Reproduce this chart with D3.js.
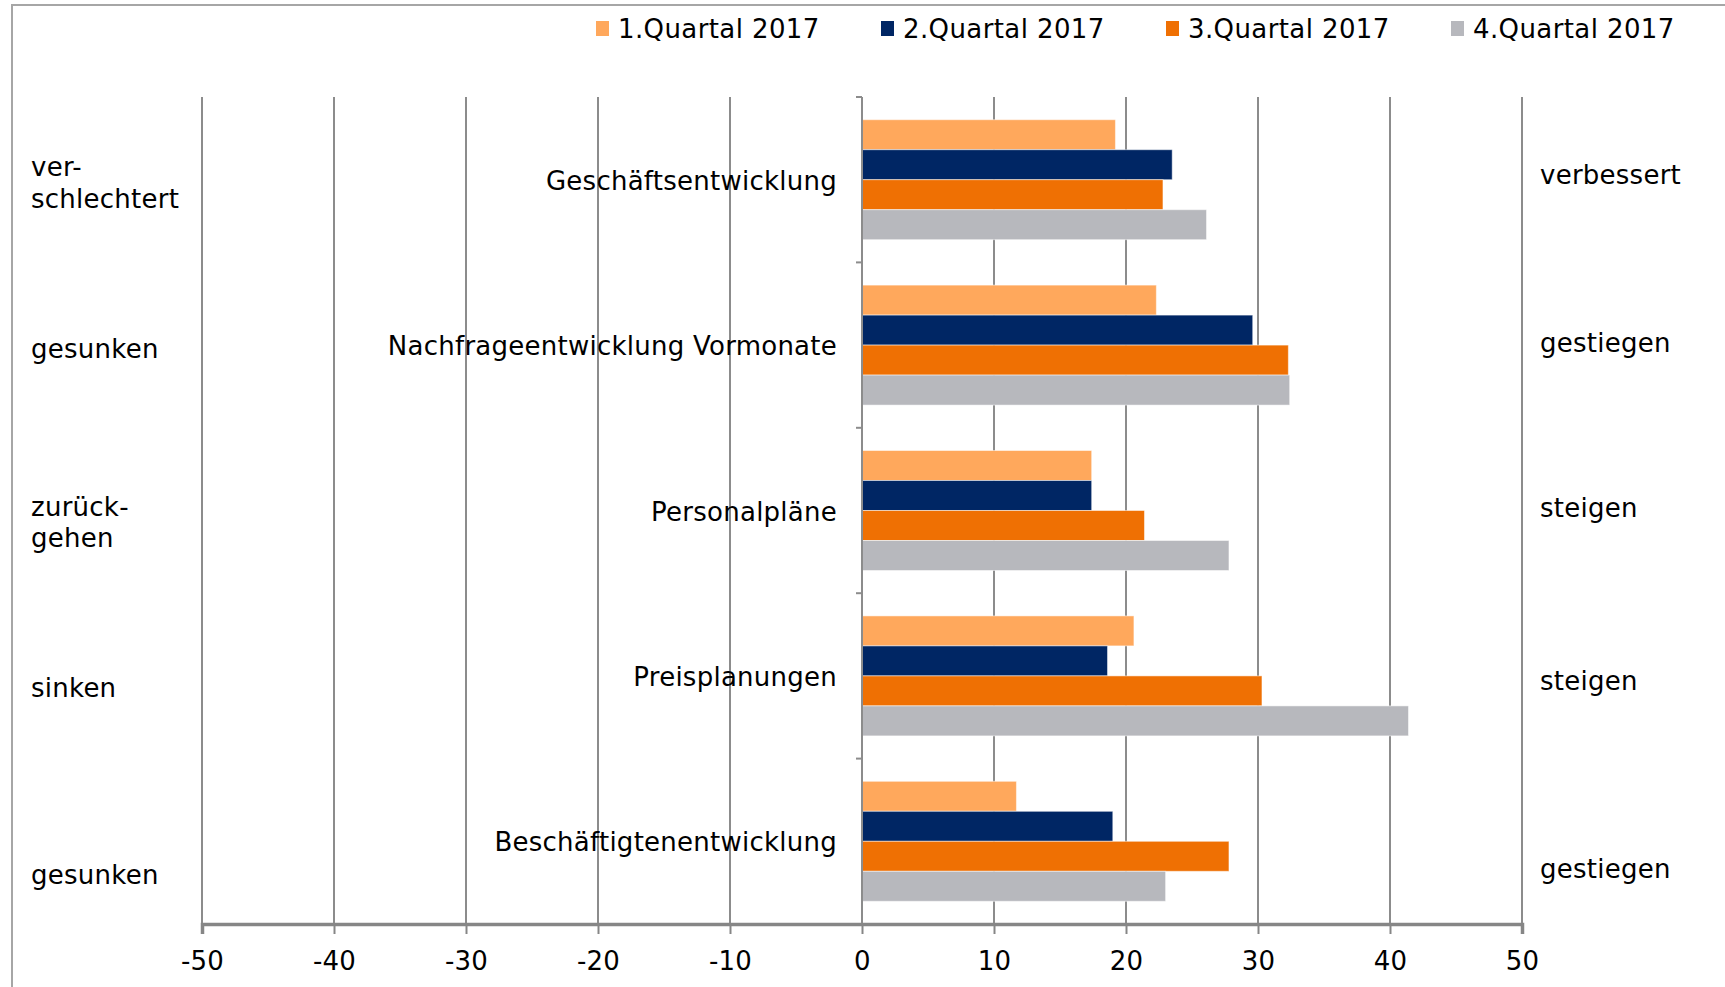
<!DOCTYPE html>
<html>
<head>
<meta charset="utf-8">
<script src="https://cdn.jsdelivr.net/npm/d3@7"></script>
<style>
  html, body { margin: 0; padding: 0; background: #fff; }
  svg { display: block; }
  text { font-family: "DejaVu Sans", Verdana, sans-serif; fill: #000; letter-spacing: 0.25px; }
  .legend text { letter-spacing: 0.4px; }
</style>
</head>
<body>
<svg id="chart" width="1725" height="987"></svg>
<script>
// ---- data ----
const categories = ["Geschäftsentwicklung", "Nachfrageentwicklung Vormonate", "Personalpläne", "Preisplanungen", "Beschäftigtenentwicklung"];
const series = ["1.Quartal 2017", "2.Quartal 2017", "3.Quartal 2017", "4.Quartal 2017"];
const q1 = [19.2, 22.3, 17.4, 20.6, 11.7];
const q2 = [23.5, 29.6, 17.4, 18.6, 19.0];
const q3 = [22.8, 32.3, 21.4, 30.3, 27.8];
const q4 = [26.1, 32.4, 27.8, 41.4, 23.0];
const leftLabels = [["ver-", "schlechtert"], ["gesunken"], ["zurück-", "gehen"], ["sinken"], ["gesunken"]];
const rightLabels = ["verbessert", "gestiegen", "steigen", "steigen", "gestiegen"];
const tickValues = [-50, -40, -30, -20, -10, 0, 10, 20, 30, 40, 50];
const tickLabels = ["-50", "-40", "-30", "-20", "-10", "0", "10", "20", "30", "40", "50"];
const colors = ["#ffa85c", "#002664", "#ef7003", "#b7b8bd"];

const values = [q1, q2, q3, q4];

// ---- layout ----
const svg = d3.select("#chart");
const FS = 26;
const x = d3.scaleLinear().domain([-50, 50]).range([202, 1522]);
const y0 = d3.scaleBand().domain(categories).range([97, 924]);
const y1 = d3.scaleBand().domain(series).range([0, y0.bandwidth()]).paddingInner(0).paddingOuter(0.757);

// outer frame
svg.append("rect").attr("x", 12).attr("y", 5).attr("width", 1725).attr("height", 1000)
  .attr("fill", "none").attr("stroke", "#a6a6a6").attr("stroke-width", 2);

// gridlines
svg.append("g").selectAll("line").data(tickValues).join("line")
  .attr("x1", d => x(d)).attr("x2", d => x(d))
  .attr("y1", y0.range()[0]).attr("y2", y0.range()[1])
  .attr("stroke", "#8c8c8c").attr("stroke-width", 2);

// bars
const groups = svg.append("g").selectAll("g").data(categories).join("g")
  .attr("transform", c => `translate(0,${y0(c)})`);
groups.selectAll("rect")
  .data((c, i) => series.map((s, j) => ({ s, j, v: values[j][i] })))
  .join("rect")
  .attr("x", d => x(Math.min(0, d.v)))
  .attr("y", d => y1(d.s))
  .attr("width", d => Math.abs(x(d.v) - x(0)))
  .attr("height", y1.bandwidth())
  .attr("fill", d => colors[d.j])
  .attr("stroke", "#ffffff").attr("stroke-opacity", 0.5).attr("stroke-width", 1);

// category axis at zero
const bounds = categories.map(c => y0(c)).concat([y0.range()[1]]);
svg.append("g").selectAll("line").data(bounds).join("line")
  .attr("x1", x(0) - 6).attr("x2", x(0))
  .attr("y1", d => d).attr("y2", d => d)
  .attr("stroke", "#8c8c8c").attr("stroke-width", 2);
svg.append("line").attr("x1", x(0)).attr("x2", x(0))
  .attr("y1", y0.range()[0]).attr("y2", y0.range()[1])
  .attr("stroke", "#8c8c8c").attr("stroke-width", 2);

// category labels
svg.append("g").selectAll("text").data(categories).join("text")
  .attr("x", x(0) - 25)
  .attr("y", c => y0(c) + y0.bandwidth() / 2 + 1)
  .attr("dy", "0.35em")
  .attr("text-anchor", "end")
  .attr("font-size", FS)
  .text(c => c);

// bottom axis
const xAxis = d3.axisBottom(x).tickValues(tickValues)
  .tickFormat((d, i) => tickLabels[i]).tickSize(10).tickPadding(18);
const gx = svg.append("g").attr("transform", `translate(0,${y0.range()[1]})`).call(xAxis);
gx.select(".domain").attr("stroke", "#868686").attr("stroke-width", 3.5);
gx.selectAll(".tick line").attr("stroke", "#868686").attr("stroke-width", 2);
gx.selectAll(".tick text").attr("font-size", FS).attr("font-family", "DejaVu Sans, Verdana, sans-serif").attr("fill", "#000");

// left labels
const leftOffsets = [[-16, 16], [0], [-15, 16], [0], [0]];
const leftCenters = [183, 349, 522, 688, 875];
svg.append("g").selectAll("text").data(leftLabels).join("text")
  .attr("x", 31)
  .attr("font-size", FS)
  .each(function (lines, i) {
    const t = d3.select(this);
    lines.forEach((ln, k) => {
      t.append("tspan").attr("x", 31)
        .attr("y", leftCenters[i] + leftOffsets[i][k])
        .attr("dy", "0.35em").text(ln);
    });
  });

// right labels
const rightCenters = [175, 343, 508, 681, 869];
svg.append("g").selectAll("text").data(rightLabels).join("text")
  .attr("x", 1540)
  .attr("y", (d, i) => rightCenters[i])
  .attr("dy", "0.35em")
  .attr("font-size", FS)
  .text(d => d);

// legend
const legX = d3.scaleBand().domain(series).range([596, 596 + 285 * 4]);
const leg = svg.append("g").attr("class", "legend").selectAll("g").data(series).join("g")
  .attr("transform", s => `translate(${legX(s)},28.5)`);
leg.append("rect").attr("x", 0).attr("y", -7.5).attr("width", 13).attr("height", 15)
  .attr("fill", (s, i) => colors[i]);
leg.append("text").attr("x", 22).attr("y", 0).attr("dy", "0.35em")
  .attr("font-size", FS).text(s => s);
</script>
</body>
</html>
